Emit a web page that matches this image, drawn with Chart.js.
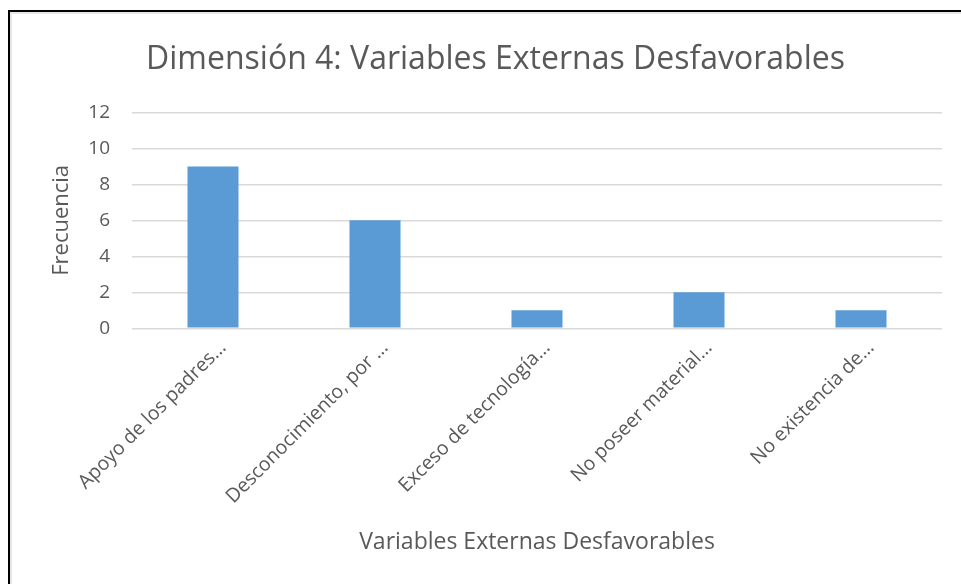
<!DOCTYPE html>
<html>
<head>
<meta charset="utf-8">
<script src="https://cdn.jsdelivr.net/npm/chart.js@4"></script>
<style>
  html,body{margin:0;padding:0;background:#fff;}
  body{width:961px;height:584px;overflow:hidden;position:relative;}
  .frame{position:absolute;left:8px;top:10px;width:960px;height:580px;
    border-left:2px solid #000;border-top:2px solid #000;box-sizing:border-box;}
  .frame::before{content:'';position:absolute;left:0;top:0;right:0;bottom:0;
    border-left:2px solid #e6e6e6;border-top:2px solid #e6e6e6;}
  .wrap{position:absolute;left:10px;top:12px;width:951px;height:572px;}
</style>
</head>
<body>
<div class="frame"></div>
<div class="wrap"><canvas id="c"></canvas></div>
<script>
// ── Data ──
const categories = [
  'Apoyo de los padres…',
  'Desconocimiento, por …',
  'Exceso de tecnología…',
  'No poseer material…',
  'No existencia de…'
];
const frecuencia = [9, 6, 1, 2, 1];
const yTicks = [0, 2, 4, 6, 8, 10, 12];

const FONT = "'Open Sans','Noto Sans',sans-serif";
const GRAY = '#595959';

new Chart(document.getElementById('c'), {
  type: 'bar',
  data: {
    labels: categories,
    datasets: [{
      label: 'Frecuencia',
      data: frecuencia,
      backgroundColor: '#5b9bd5',
      borderWidth: 0,
      categoryPercentage: 1,
      barPercentage: 0.315
    }]
  },
  options: {
    responsive: true,
    maintainAspectRatio: false,
    animation: false,
    layout: {padding: {top: 22, right: 19, left: 39, bottom: 28}},
    plugins: {
      legend: {display: false},
      tooltip: {enabled: false},
      title: {
        display: true,
        text: 'Dimensión 4: Variables Externas Desfavorables',
        color: GRAY,
        font: {family: FONT, size: 32, weight: 'normal'},
        padding: {top: 7, bottom: 33}
      }
    },
    scales: {
      x: {
        grid: {display: false},
        border: {display: false},
        // rotated labels may hang past the y axis, as in the original
        afterFit: s => { s.paddingLeft = 0; s.paddingRight = 0; },
        ticks: {
          color: GRAY, font: {family: FONT, size: 19.5},
          maxRotation: 45, minRotation: 45, autoSkip: false,
          padding: 0, labelOffset: 10
        },
        title: {
          display: true, text: 'Variables Externas Desfavorables',
          color: GRAY, font: {family: FONT, size: 23}, padding: {top: 20, bottom: 0}
        }
      },
      y: {
        min: 0, max: 12,
        afterBuildTicks: ax => { ax.ticks = yTicks.map(v => ({value: v})); },
        afterFit: s => { s.width = 83; },
        grid: {color: '#d9d9d9', lineWidth: 1.5, drawTicks: false},
        border: {display: false},
        ticks: {color: GRAY, font: {family: FONT, size: 19}, padding: 22},
        title: {
          display: true, text: 'Frecuencia',
          color: GRAY, font: {family: FONT, size: 22}, padding: {top: 0, bottom: 14}
        }
      }
    }
  }
});
</script>
</body>
</html>
